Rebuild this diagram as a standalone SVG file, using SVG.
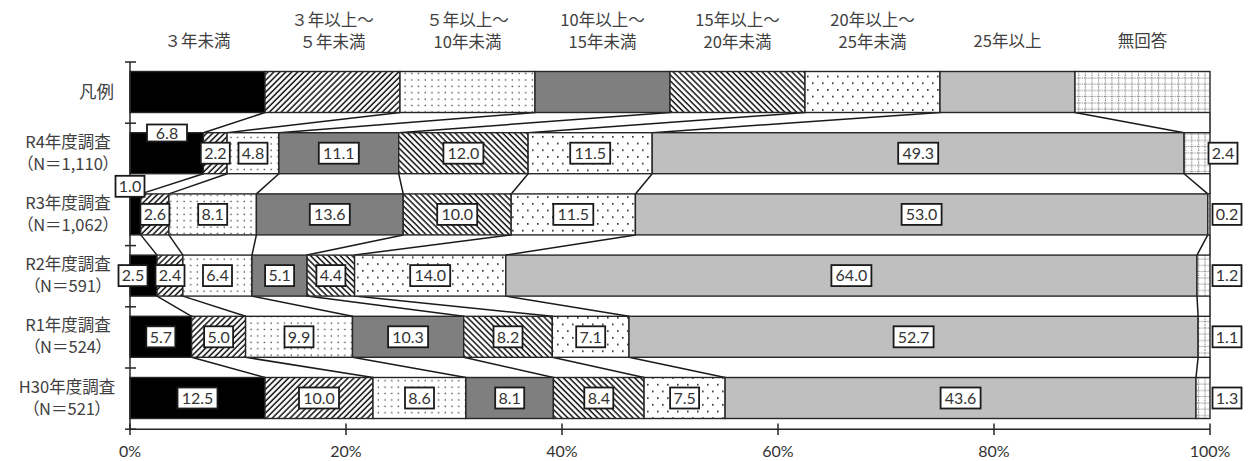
<svg xmlns="http://www.w3.org/2000/svg" width="1250" height="461" viewBox="0 0 1250 461">
<style>
.hdr{font-family:"Noto Sans CJK JP",sans-serif;font-size:16.5px;fill:#404040;text-anchor:middle}
.cat{font-family:"Noto Sans CJK JP",sans-serif;font-size:16.5px;fill:#404040;text-anchor:middle;font-feature-settings:"palt"}
.num{font-family:Lato,"Liberation Sans",sans-serif;font-size:16px;fill:#333;text-anchor:middle}
.box{fill:#fff;stroke:#1a1a1a;stroke-width:1.8}
.seg rect{stroke:#262626;stroke-width:1.4}
.sl line{stroke:#1a1a1a;stroke-width:1.5}
.ax line{stroke:#262626;stroke-width:1.5}
.s1{fill:#000}.s2{fill:url(#hf)}.s3{fill:url(#dd)}.s4{fill:#7f7f7f}.s5{fill:url(#hb)}.s6{fill:url(#ds)}.s7{fill:#bfbfbf}.s8{fill:url(#gr)}
</style>
<defs>
<pattern id="hf" width="4.2" height="4.2" patternUnits="userSpaceOnUse" patternTransform="rotate(45)"><rect width="4.2" height="4.2" fill="#fff"/><line x1="1" y1="0" x2="1" y2="4.2" stroke="#111" stroke-width="1.5"/></pattern>
<pattern id="hb" width="4.2" height="4.2" patternUnits="userSpaceOnUse" patternTransform="rotate(-45)"><rect width="4.2" height="4.2" fill="#fff"/><line x1="1" y1="0" x2="1" y2="4.2" stroke="#111" stroke-width="1.5"/></pattern>
<pattern id="dd" width="6.7" height="6.4" patternUnits="userSpaceOnUse"><rect width="6.7" height="6.4" fill="#fff"/><rect x="2.5" y="2.5" width="1.3" height="1.3" fill="#333"/></pattern>
<pattern id="ds" width="10" height="13.4" patternUnits="userSpaceOnUse"><rect width="10" height="13.4" fill="#fff"/><rect x="2" y="2" width="1.6" height="1.6" fill="#222"/><rect x="7" y="8.7" width="1.6" height="1.6" fill="#222"/></pattern>
<pattern id="gr" width="13.3" height="12.5" patternUnits="userSpaceOnUse"><rect width="13.3" height="12.5" fill="#fff"/><g stroke="#444" stroke-width="0.8" stroke-dasharray="1 1.2"><line x1="1.5" y1="0" x2="1.5" y2="12.5"/><line x1="8" y1="0" x2="8" y2="12.5"/><line x1="0" y1="3" x2="13.3" y2="3"/><line x1="0" y1="9" x2="13.3" y2="9"/></g></pattern>
</defs>
<rect width="1250" height="461" fill="#fff"/>

<g id="headers">
<text class="hdr" x="197.5" y="47">３年未満</text>
<text class="hdr" x="332.5" y="26">３年以上～</text><text class="hdr" x="332.5" y="48">５年未満</text>
<text class="hdr" x="467.5" y="26">５年以上～</text><text class="hdr" x="467.5" y="48">10年未満</text>
<text class="hdr" x="602.5" y="26">10年以上～</text><text class="hdr" x="602.5" y="48">15年未満</text>
<text class="hdr" x="737.5" y="26">15年以上～</text><text class="hdr" x="737.5" y="48">20年未満</text>
<text class="hdr" x="872.5" y="26">20年以上～</text><text class="hdr" x="872.5" y="48">25年未満</text>
<text class="hdr" x="1007.5" y="47">25年以上</text>
<text class="hdr" x="1142.5" y="47">無回答</text>
</g>

<g id="categories">
<text class="cat" x="114" y="98" style="text-anchor:end;font-size:17.5px">凡例</text>
<text class="cat" x="68" y="147.7">R4年度調査</text><text class="cat" x="68" y="169.7">（N＝1,110）</text>
<text class="cat" x="68" y="208.9">R3年度調査</text><text class="cat" x="68" y="230.9">（N＝1,062）</text>
<text class="cat" x="68" y="270.1">R2年度調査</text><text class="cat" x="68" y="292.1">（N＝591）</text>
<text class="cat" x="68" y="331.3">R1年度調査</text><text class="cat" x="68" y="353.3">（N＝524）</text>
<text class="cat" x="67" y="392.5">H30年度調査</text><text class="cat" x="67" y="414.5">（N＝521）</text>
</g>

<g id="connectors" class="sl">
<line x1="265" y1="112.5" x2="203.4" y2="132.7"/><line x1="400" y1="112.5" x2="227.1" y2="132.7"/><line x1="535" y1="112.5" x2="278.9" y2="132.7"/><line x1="670" y1="112.5" x2="398.7" y2="132.7"/><line x1="805" y1="112.5" x2="528.1" y2="132.7"/><line x1="940" y1="112.5" x2="652.2" y2="132.7"/><line x1="1075" y1="112.5" x2="1184.1" y2="132.7"/><line x1="1210" y1="112.5" x2="1210" y2="132.7"/>
<line x1="203.4" y1="173.7" x2="140.8" y2="193.9"/><line x1="227.1" y1="173.7" x2="168.9" y2="193.9"/><line x1="278.9" y1="173.7" x2="256.4" y2="193.9"/><line x1="398.7" y1="173.7" x2="403.2" y2="193.9"/><line x1="528.1" y1="173.7" x2="511.2" y2="193.9"/><line x1="652.2" y1="173.7" x2="635.4" y2="193.9"/><line x1="1184.1" y1="173.7" x2="1207.8" y2="193.9"/><line x1="1210" y1="173.7" x2="1210" y2="193.9"/>
<line x1="140.8" y1="234.9" x2="157" y2="255.1"/><line x1="168.9" y1="234.9" x2="182.9" y2="255.1"/><line x1="256.4" y1="234.9" x2="252" y2="255.1"/><line x1="403.2" y1="234.9" x2="307.1" y2="255.1"/><line x1="511.2" y1="234.9" x2="354.6" y2="255.1"/><line x1="635.4" y1="234.9" x2="505.8" y2="255.1"/><line x1="1207.8" y1="234.9" x2="1197" y2="255.1"/><line x1="1210" y1="234.9" x2="1210" y2="255.1"/>
<line x1="157" y1="296.1" x2="191.6" y2="316.3"/><line x1="182.9" y1="296.1" x2="245.6" y2="316.3"/><line x1="252" y1="296.1" x2="352.5" y2="316.3"/><line x1="307.1" y1="296.1" x2="463.7" y2="316.3"/><line x1="354.6" y1="296.1" x2="552.3" y2="316.3"/><line x1="505.8" y1="296.1" x2="629" y2="316.3"/><line x1="1197" y1="296.1" x2="1198.1" y2="316.3"/><line x1="1210" y1="296.1" x2="1210" y2="316.3"/>
<line x1="191.6" y1="357.3" x2="265" y2="377.5"/><line x1="245.6" y1="357.3" x2="373" y2="377.5"/><line x1="352.5" y1="357.3" x2="465.9" y2="377.5"/><line x1="463.7" y1="357.3" x2="553.4" y2="377.5"/><line x1="552.3" y1="357.3" x2="644.1" y2="377.5"/><line x1="629" y1="357.3" x2="725.1" y2="377.5"/><line x1="1198.1" y1="357.3" x2="1196" y2="377.5"/><line x1="1210" y1="357.3" x2="1210" y2="377.5"/>
</g>

<g id="bar-legend" class="seg">
<rect class="s1" x="130" y="71.5" width="135" height="41"/><rect class="s2" x="265" y="71.5" width="135" height="41"/><rect class="s3" x="400" y="71.5" width="135" height="41"/><rect class="s4" x="535" y="71.5" width="135" height="41"/><rect class="s5" x="670" y="71.5" width="135" height="41"/><rect class="s6" x="805" y="71.5" width="135" height="41"/><rect class="s7" x="940" y="71.5" width="135" height="41"/><rect class="s8" x="1075" y="71.5" width="135" height="41"/>
</g>
<g id="bar-r4" class="seg">
<rect class="s1" x="130" y="132.7" width="73.4" height="41"/><rect class="s2" x="203.4" y="132.7" width="23.7" height="41"/><rect class="s3" x="227.1" y="132.7" width="51.8" height="41"/><rect class="s4" x="278.9" y="132.7" width="119.8" height="41"/><rect class="s5" x="398.7" y="132.7" width="129.4" height="41"/><rect class="s6" x="528.1" y="132.7" width="124.1" height="41"/><rect class="s7" x="652.2" y="132.7" width="531.9" height="41"/><rect class="s8" x="1184.1" y="132.7" width="25.9" height="41"/>
</g>
<g id="bar-r3" class="seg">
<rect class="s1" x="130" y="193.9" width="10.8" height="41"/><rect class="s2" x="140.8" y="193.9" width="28.1" height="41"/><rect class="s3" x="168.9" y="193.9" width="87.5" height="41"/><rect class="s4" x="256.4" y="193.9" width="146.8" height="41"/><rect class="s5" x="403.2" y="193.9" width="108" height="41"/><rect class="s6" x="511.2" y="193.9" width="124.2" height="41"/><rect class="s7" x="635.4" y="193.9" width="572.4" height="41"/><rect class="s8" x="1207.8" y="193.9" width="2.2" height="41"/>
</g>
<g id="bar-r2" class="seg">
<rect class="s1" x="130" y="255.1" width="27" height="41"/><rect class="s2" x="157" y="255.1" width="25.9" height="41"/><rect class="s3" x="182.9" y="255.1" width="69.1" height="41"/><rect class="s4" x="252" y="255.1" width="55.1" height="41"/><rect class="s5" x="307.1" y="255.1" width="47.5" height="41"/><rect class="s6" x="354.6" y="255.1" width="151.2" height="41"/><rect class="s7" x="505.8" y="255.1" width="691.2" height="41"/><rect class="s8" x="1197" y="255.1" width="13" height="41"/>
</g>
<g id="bar-r1" class="seg">
<rect class="s1" x="130" y="316.3" width="61.6" height="41"/><rect class="s2" x="191.6" y="316.3" width="54" height="41"/><rect class="s3" x="245.6" y="316.3" width="106.9" height="41"/><rect class="s4" x="352.5" y="316.3" width="111.2" height="41"/><rect class="s5" x="463.7" y="316.3" width="88.6" height="41"/><rect class="s6" x="552.3" y="316.3" width="76.7" height="41"/><rect class="s7" x="629" y="316.3" width="569.1" height="41"/><rect class="s8" x="1198.1" y="316.3" width="11.9" height="41"/>
</g>
<g id="bar-h30" class="seg">
<rect class="s1" x="130" y="377.5" width="135" height="41"/><rect class="s2" x="265" y="377.5" width="108" height="41"/><rect class="s3" x="373" y="377.5" width="92.9" height="41"/><rect class="s4" x="465.9" y="377.5" width="87.5" height="41"/><rect class="s5" x="553.4" y="377.5" width="90.7" height="41"/><rect class="s6" x="644.1" y="377.5" width="81" height="41"/><rect class="s7" x="725.1" y="377.5" width="470.9" height="41"/><rect class="s8" x="1196" y="377.5" width="14" height="41"/>
</g>

<g id="axes" class="ax">
<line x1="130" y1="62" x2="130" y2="429.2"/>
<line x1="125" y1="62" x2="136" y2="62"/><line x1="125" y1="123.2" x2="136" y2="123.2"/><line x1="125" y1="184.4" x2="136" y2="184.4"/><line x1="125" y1="245.6" x2="136" y2="245.6"/><line x1="125" y1="306.8" x2="136" y2="306.8"/><line x1="125" y1="368" x2="136" y2="368"/><line x1="125" y1="429.2" x2="136" y2="429.2"/>
<line x1="130" y1="429.2" x2="1210" y2="429.2"/>
<line x1="130" y1="423.5" x2="130" y2="435"/><line x1="346" y1="423.5" x2="346" y2="435"/><line x1="562" y1="423.5" x2="562" y2="435"/><line x1="778" y1="423.5" x2="778" y2="435"/><line x1="994" y1="423.5" x2="994" y2="435"/><line x1="1210" y1="423.5" x2="1210" y2="435"/>
</g>
<g id="axis-labels">
<text class="num" x="130" y="457">0%</text><text class="num" x="346" y="457">20%</text><text class="num" x="562" y="457">40%</text><text class="num" x="778" y="457">60%</text><text class="num" x="994" y="457">80%</text><text class="num" x="1210" y="457">100%</text>
</g>

<g id="labels-r4">
<rect class="box" x="147" y="124.5" width="40" height="17"/><text class="num" x="167" y="138.6">6.8</text>
<rect class="box" x="200.8" y="142.7" width="29" height="21"/><text class="num" x="215.3" y="158.9">2.2</text>
<rect class="box" x="238.5" y="142.7" width="29" height="21"/><text class="num" x="253" y="158.9">4.8</text>
<rect class="box" x="318.8" y="142.7" width="40" height="21"/><text class="num" x="338.8" y="158.9">11.1</text>
<rect class="box" x="443.4" y="142.7" width="40" height="21"/><text class="num" x="463.4" y="158.9">12.0</text>
<rect class="box" x="570.2" y="142.7" width="40" height="21"/><text class="num" x="590.2" y="158.9">11.5</text>
<rect class="box" x="898.2" y="142.7" width="40" height="21"/><text class="num" x="918.2" y="158.9">49.3</text>
<rect class="box" x="1208.5" y="142.7" width="29" height="21"/><text class="num" x="1223" y="158.9">2.4</text>
</g>
<g id="labels-r3">
<rect class="box" x="115.5" y="175.8" width="29" height="21"/><text class="num" x="130" y="192">1.0</text>
<rect class="box" x="140.4" y="203.9" width="29" height="21"/><text class="num" x="154.9" y="220.1">2.6</text>
<rect class="box" x="198.2" y="203.9" width="29" height="21"/><text class="num" x="212.7" y="220.1">8.1</text>
<rect class="box" x="309.8" y="203.9" width="40" height="21"/><text class="num" x="329.8" y="220.1">13.6</text>
<rect class="box" x="437.2" y="203.9" width="40" height="21"/><text class="num" x="457.2" y="220.1">10.0</text>
<rect class="box" x="553.3" y="203.9" width="40" height="21"/><text class="num" x="573.3" y="220.1">11.5</text>
<rect class="box" x="901.6" y="203.9" width="40" height="21"/><text class="num" x="921.6" y="220.1">53.0</text>
<rect class="box" x="1212.5" y="203.9" width="29" height="21"/><text class="num" x="1227" y="220.1">0.2</text>
</g>
<g id="labels-r2">
<rect class="box" x="118.5" y="265.1" width="29" height="21"/><text class="num" x="133" y="281.3">2.5</text>
<rect class="box" x="155.5" y="265.1" width="29" height="21"/><text class="num" x="170" y="281.3">2.4</text>
<rect class="box" x="203" y="265.1" width="29" height="21"/><text class="num" x="217.5" y="281.3">6.4</text>
<rect class="box" x="265.1" y="265.1" width="29" height="21"/><text class="num" x="279.6" y="281.3">5.1</text>
<rect class="box" x="316.4" y="265.1" width="29" height="21"/><text class="num" x="330.9" y="281.3">4.4</text>
<rect class="box" x="410.2" y="265.1" width="40" height="21"/><text class="num" x="430.2" y="281.3">14.0</text>
<rect class="box" x="831.4" y="265.1" width="40" height="21"/><text class="num" x="851.4" y="281.3">64.0</text>
<rect class="box" x="1212.5" y="265.1" width="29" height="21"/><text class="num" x="1227" y="281.3">1.2</text>
</g>
<g id="labels-r1">
<rect class="box" x="146.3" y="326.3" width="29" height="21"/><text class="num" x="160.8" y="342.5">5.7</text>
<rect class="box" x="204.1" y="326.3" width="29" height="21"/><text class="num" x="218.6" y="342.5">5.0</text>
<rect class="box" x="284.5" y="326.3" width="29" height="21"/><text class="num" x="299" y="342.5">9.9</text>
<rect class="box" x="388.1" y="326.3" width="40" height="21"/><text class="num" x="408.1" y="342.5">10.3</text>
<rect class="box" x="493.5" y="326.3" width="29" height="21"/><text class="num" x="508" y="342.5">8.2</text>
<rect class="box" x="576.2" y="326.3" width="29" height="21"/><text class="num" x="590.7" y="342.5">7.1</text>
<rect class="box" x="893.6" y="326.3" width="40" height="21"/><text class="num" x="913.6" y="342.5">52.7</text>
<rect class="box" x="1212.5" y="326.3" width="29" height="21"/><text class="num" x="1227" y="342.5">1.1</text>
</g>
<g id="labels-h30">
<rect class="box" x="177.5" y="387.5" width="40" height="21"/><text class="num" x="197.5" y="403.7">12.5</text>
<rect class="box" x="299" y="387.5" width="40" height="21"/><text class="num" x="319" y="403.7">10.0</text>
<rect class="box" x="405" y="387.5" width="29" height="21"/><text class="num" x="419.5" y="403.7">8.6</text>
<rect class="box" x="495.2" y="387.5" width="29" height="21"/><text class="num" x="509.7" y="403.7">8.1</text>
<rect class="box" x="584.3" y="387.5" width="29" height="21"/><text class="num" x="598.8" y="403.7">8.4</text>
<rect class="box" x="670.1" y="387.5" width="29" height="21"/><text class="num" x="684.6" y="403.7">7.5</text>
<rect class="box" x="940.6" y="387.5" width="40" height="21"/><text class="num" x="960.6" y="403.7">43.6</text>
<rect class="box" x="1212.5" y="387.5" width="29" height="21"/><text class="num" x="1227" y="403.7">1.3</text>
</g>
</svg>
